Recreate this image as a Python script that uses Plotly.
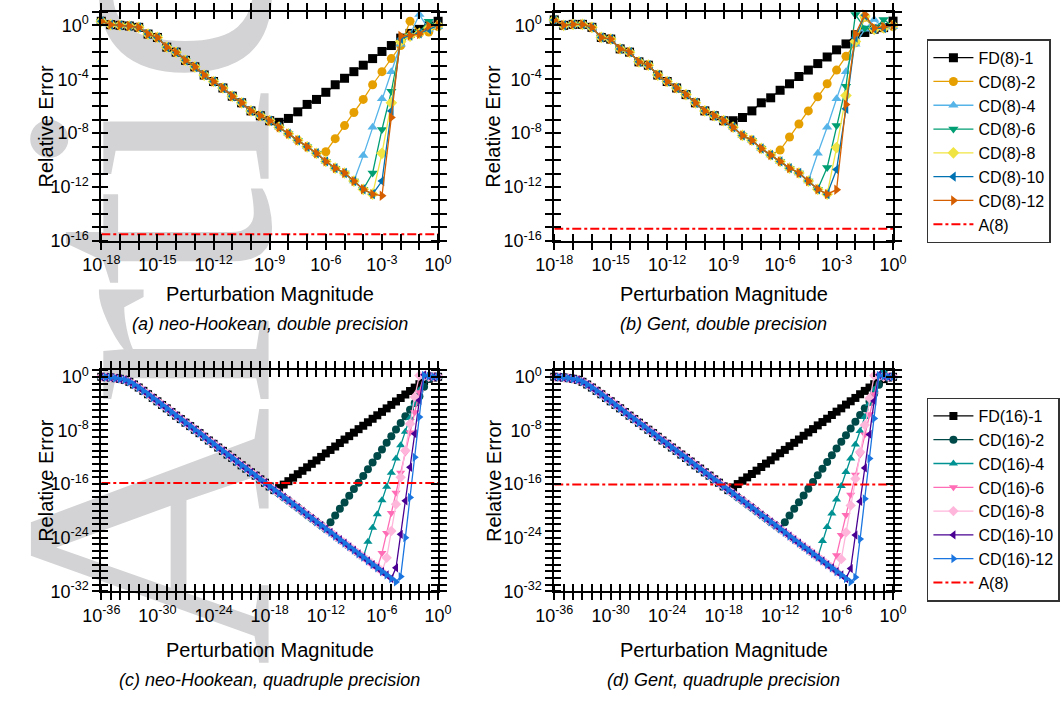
import numpy as np
import plotly.graph_objects as go

# ---------------- x grids (log10 of perturbation magnitude) ----------------
H8 = [-18.0, -17.5, -17.0, -16.5, -16.0, -15.5, -15.0, -14.5, -14.0, -13.5,
      -13.0, -12.5, -12.0, -11.5, -11.0, -10.5, -10.0, -9.5, -9.0, -8.5,
      -8.0, -7.5, -7.0, -6.5, -6.0, -5.5, -5.0, -4.5, -4.0, -3.5,
      -3.0, -2.5, -2.0, -1.5, -1.0, -0.5, 0.0]
H16 = [-36.0, -35.5, -35.0, -34.5, -34.0, -33.5, -33.0, -32.5, -32.0, -31.5,
       -31.0, -30.5, -30.0, -29.5, -29.0, -28.5, -28.0, -27.5, -27.0, -26.5,
       -26.0, -25.5, -25.0, -24.5, -24.0, -23.5, -23.0, -22.5, -22.0, -21.5,
       -21.0, -20.5, -20.0, -19.5, -19.0, -18.5, -18.0, -17.5, -17.0, -16.5,
       -16.0, -15.5, -15.0, -14.5, -14.0, -13.5, -13.0, -12.5, -12.0, -11.5,
       -11.0, -10.5, -10.0, -9.5, -9.0, -8.5, -8.0, -7.5, -7.0, -6.5,
       -6.0, -5.5, -5.0, -4.5, -4.0, -3.5, -3.0, -2.5, -2.0, -1.5,
       -1.0, -0.5, 0.0]

# ---------------- (a) neo-Hookean, double precision (log10 rel. error) -----
BASE_NH8 = [0.3, 0.05, 0.0, -0.05, -0.15, -0.65, -0.9, -1.62, -1.99, -2.6,
            -3.08, -3.69, -4.17, -4.65, -5.26, -5.75, -6.35, -6.71, -7.08, -7.56,
            -8.05, -8.53, -9.02, -9.5, -10.1, -10.6, -10.96, -11.56, -12.17, -12.53,
            -12.65]
FD8_NH = BASE_NH8[:19] + [-7.2, -6.91, -6.42, -5.87, -5.5, -4.97, -4.41, -3.93, -3.44,
                          -2.96, -2.47, -1.94, -1.5, -0.95, -0.6, -0.3, -0.05, 0.3]
CD8_2_NH = BASE_NH8[:24] + [-9.38, -8.41, -7.44, -6.47, -5.5, -4.41, -3.44, -2.47, -1.5,
                            0.31, -0.6, -0.5, -0.1]
CD8_4_NH = BASE_NH8[:28] + [-9.67, -7.56, -5.45, -3.44, -1.4, -0.7, 0.8, -0.3, -0.1]
CD8_6_NH = BASE_NH8[:29] + [-10.96, -7.73, -4.9, -1.3, -0.75, -0.5, 0.3, -0.1]
CD8_8_NH = BASE_NH8[:30] + [-9.5, -5.75, -1.2, -0.8, -0.6, -0.2, 0.0]
CD8_10_NH = BASE_NH8[:30] + [-11.56, -6.35, -1.0, -0.75, -0.6, -0.3, 0.0]
CD8_12_NH = BASE_NH8[:31] + [-6.84, -0.78, -0.75, -0.65, -0.05, 0.0]
A8_NH = -15.5

# ---------------- (b) Gent, double precision ----------------
BASE_G8 = [0.4, 0.0, 0.07, 0.07, -0.15, -0.9, -1.02, -1.75, -1.99, -2.71,
           -2.96, -3.69, -4.17, -4.65, -5.14, -5.75, -6.35, -6.71, -7.08, -7.56,
           -8.17, -8.53, -9.14, -9.62, -10.1, -10.6, -10.96, -11.56, -12.17, -12.53]
FD8_G = BASE_G8[:19] + [-7.08, -6.84, -6.35, -5.75, -5.38, -4.82, -4.34, -3.8, -3.32,
                        -2.84, -2.35, -1.82, -1.38, -0.7, -0.53, -0.29, -0.17, 0.31]
CD8_2_G = BASE_G8[:24] + [-9.26, -8.29, -7.32, -6.35, -5.31, -4.34, -3.32, -2.3, -1.3,
                          0.6, -0.3, -0.2, -0.1]
CD8_4_G = BASE_G8[:28] + [-9.5, -7.56, -5.45, -3.44, -1.4, -0.3, 0.44, -0.2, -0.1]
CD8_6_G = BASE_G8[:29] + [-10.55, -7.44, -4.53, 0.8, -0.2, -0.3, 0.44, -0.1]
CD8_8_G = BASE_G8[:30] + [-9.07, -5.21, -1.2, 0.7, -0.3, -0.2, 0.0]
CD8_10_G = BASE_G8[:30] + [-10.7, -6.2, -0.9, 0.75, -0.25, -0.2, 0.0]
CD8_12_G = BASE_G8[:30] + [-12.2, -5.87, -0.65, 0.8, -0.2, -0.1, 0.0]
A8_G = -15.1

# ---------------- (c) neo-Hookean, quadruple precision ----------------
BASE_NH16 = [0.0, -0.05, -0.1, -0.2, -0.3, -0.45, -0.75, -1.15, -1.6, -2.1,
             -2.6, -3.15, -3.65, -4.2, -4.7, -5.25, -5.8, -6.3, -6.85, -7.35,
             -7.9, -8.4, -8.95, -9.5, -10.0, -10.55, -11.05, -11.6, -12.1, -12.65,
             -13.2, -13.7, -14.25, -14.75, -15.3, -15.8, -16.35, -16.9, -17.4, -17.95,
             -18.45, -19.0, -19.5, -20.05, -20.6, -21.1, -21.65, -22.15, -22.7, -23.2,
             -23.75, -24.3, -24.8, -25.35, -25.85, -26.4, -26.9, -27.45, -28.0, -28.5,
             -29.05, -29.55, -30.1, -30.6]
FD16_NH = BASE_NH16[:38] + [-16.6, -16.08, -15.57, -15.05, -14.53, -14.02, -13.5, -12.98,
                            -12.47, -11.95, -11.43, -10.91, -10.4, -9.88, -9.36, -8.85,
                            -8.33, -7.81, -7.3, -6.78, -6.26, -5.74, -5.23, -4.71, -4.19,
                            -3.68, -3.16, -2.64, -2.12, -1.61, -1.1, -0.65, -0.3, -0.1, 0.0]
CD16_2_NH = BASE_NH16[:49] + [-21.7, -20.7, -19.7, -18.75, -17.75, -16.75, -15.8, -14.8,
                              -13.8, -12.8, -11.8, -10.85, -9.85, -8.85, -7.85, -6.9,
                              -5.9, -4.9, -3.9, -2.9, -1.5, -0.3, 0.1, 0.0]
CD16_4_NH = BASE_NH16[:57] + [-24.6, -22.5, -20.5, -18.4, -16.4, -14.3, -12.2, -10.2,
                              -8.2, -6.1, -4.0, -2.0, 0.0, 0.3, 0.1, 0.0]
CD16_6_NH = BASE_NH16[:60] + [-26.3, -23.3, -20.3, -17.3, -14.3, -11.3, -8.3, -5.3, -2.3,
                              0.2, 0.2, 0.0, 0.0]
CD16_8_NH = BASE_NH16[:61] + [-27.0, -23.0, -19.0, -15.0, -11.0, -7.0, -3.0, 0.2, 0.1,
                              0.0, 0.0, 0.0]
CD16_10_NH = BASE_NH16[:63] + [-28.5, -23.5, -18.5, -13.5, -8.5, -3.5, 0.3, 0.1, 0.0, 0.0]
CD16_12_NH = BASE_NH16[:64] + [-29.8, -24.0, -18.0, -12.0, -6.0, 0.2, 0.1, 0.0, 0.0]
A16_NH = -15.85

# ---------------- (d) Gent, quadruple precision ----------------
BASE_G16 = [0.0, -0.05, -0.1, -0.2, -0.3, -0.45, -0.75, -1.15, -1.6, -2.1,
            -2.6, -3.15, -3.65, -4.2, -4.7, -5.25, -5.8, -6.3, -6.85, -7.35,
            -7.9, -8.4, -8.95, -9.5, -10.0, -10.55, -11.05, -11.6, -12.1, -12.65,
            -13.2, -13.7, -14.25, -14.75, -15.3, -15.8, -16.35, -16.9, -17.4, -17.95,
            -18.45, -19.0, -19.5, -20.05, -20.6, -21.1, -21.65, -22.15, -22.7, -23.2,
            -23.75, -24.3, -24.8, -25.35, -25.85, -26.4, -26.9, -27.45, -28.0, -28.5,
            -29.05, -29.55, -30.1, -30.6]
FD16_G = BASE_G16[:38] + [-16.5, -16.0, -15.5, -15.0, -14.5, -14.0, -13.45, -12.95,
                          -12.45, -11.9, -11.4, -10.9, -10.35, -9.85, -9.35, -8.8,
                          -8.3, -7.8, -7.25, -6.75, -6.25, -5.7, -5.2, -4.7, -4.15,
                          -3.65, -3.15, -2.6, -2.1, -1.6, -1.1, -0.7, -0.35, -0.1, 0.0]
CD16_2_G = BASE_G16[:49] + [-21.7, -20.7, -19.7, -18.7, -17.7, -16.7, -15.7, -14.7,
                            -13.7, -12.7, -11.7, -10.7, -9.7, -8.7, -7.7, -6.7,
                            -5.7, -4.7, -3.7, -2.5, -1.2, 0.6, -0.1, 0.0]
CD16_4_G = BASE_G16[:57] + [-24.5, -22.4, -20.4, -18.3, -16.3, -14.2, -12.2, -10.1,
                            -8.1, -6.0, -4.0, -1.9, 0.0, 0.9, 0.1, 0.0]
CD16_6_G = BASE_G16[:60] + [-26.6, -23.6, -20.6, -17.6, -14.6, -11.6, -8.6, -5.6, -2.6,
                            0.2, 0.2, 0.0, 0.0]
CD16_8_G = BASE_G16[:61] + [-27.2, -23.2, -19.2, -15.2, -11.2, -7.2, -3.2, 0.2, 0.1,
                            0.0, 0.0, 0.0]
CD16_10_G = BASE_G16[:63] + [-28.6, -23.6, -18.6, -13.6, -8.6, -3.6, 0.3, 0.1, 0.0, 0.0]
CD16_12_G = BASE_G16[:64] + [-29.9, -24.2, -18.2, -12.2, -6.2, 0.2, 0.1, 0.0, 0.0]
A16_G = -16.05

# ---------------- series styling ----------------
NAMES8 = ["FD(8)-1", "CD(8)-2", "CD(8)-4", "CD(8)-6", "CD(8)-8", "CD(8)-10", "CD(8)-12"]
NAMES16 = ["FD(16)-1", "CD(16)-2", "CD(16)-4", "CD(16)-6", "CD(16)-8", "CD(16)-10", "CD(16)-12"]
COLORS8 = ["#000000", "#E69F00", "#56B4E9", "#009E73", "#F0E442", "#0072B2", "#D55E00"]
COLORS16 = ["#000000", "#004949", "#009292", "#FF6DB6", "#FFB6DB", "#490092", "#1A75E0"]
SYMBOLS = ["square", "circle", "triangle-up", "triangle-down", "diamond",
           "triangle-left", "triangle-right"]

PANELS = [
    dict(h=H8, series=[FD8_NH, CD8_2_NH, CD8_4_NH, CD8_6_NH, CD8_8_NH, CD8_10_NH, CD8_12_NH],
         a=A8_NH, names=NAMES8, colors=COLORS8, legend="legend", show=True, ms=9),
    dict(h=H8, series=[FD8_G, CD8_2_G, CD8_4_G, CD8_6_G, CD8_8_G, CD8_10_G, CD8_12_G],
         a=A8_G, names=NAMES8, colors=COLORS8, legend="legend", show=False, ms=9),
    dict(h=H16, series=[FD16_NH, CD16_2_NH, CD16_4_NH, CD16_6_NH, CD16_8_NH, CD16_10_NH, CD16_12_NH],
         a=A16_NH, names=NAMES16, colors=COLORS16, legend="legend2", show=True, ms=8),
    dict(h=H16, series=[FD16_G, CD16_2_G, CD16_4_G, CD16_6_G, CD16_8_G, CD16_10_G, CD16_12_G],
         a=A16_G, names=NAMES16, colors=COLORS16, legend="legend2", show=False, ms=8),
]

CAPTIONS = ["(a) neo-Hookean, double precision", "(b) Gent, double precision",
            "(c) neo-Hookean, quadruple precision", "(d) Gent, quadruple precision"]

W, H = 1060, 709
XDOM = [[85 / W, 433 / W], [553 / W, 903 / W], [85 / W, 433 / W], [553 / W, 903 / W]]
YDOM = [[1 - 241 / H, 1 - 7 / H], [1 - 241 / H, 1 - 7 / H],
        [1 - 599 / H, 1 - 373 / H], [1 - 599 / H, 1 - 373 / H]]
XR = [(-18, 0, 3), (-18, 0, 3), (-36, 0, 6), (-36, 0, 6)]
YR = [(-16, 1, 4), (-16, 1, 4), (-32, 1, 8), (-32, 1, 8)]

FONT = "Liberation Sans, Arial, sans-serif"

fig = go.Figure()

for i, p in enumerate(PANELS):
    xa = "x" if i == 0 else f"x{i + 1}"
    ya = "y" if i == 0 else f"y{i + 1}"
    xs = [10.0 ** v for v in p["h"]]
    for name, col, sym, s in zip(p["names"], p["colors"], SYMBOLS, p["series"]):
        fig.add_trace(go.Scatter(
            x=xs, y=[10.0 ** v for v in s], mode="lines+markers", name=name,
            line=dict(color=col, width=1.3),
            marker=dict(symbol=sym, size=p["ms"], color=col, line=dict(width=0)),
            xaxis=xa, yaxis=ya, legend=p["legend"], showlegend=p["show"],
            cliponaxis=False))
    fig.add_trace(go.Scatter(
        x=[xs[0], xs[-1]], y=[10.0 ** p["a"]] * 2, mode="lines", name="A(8)",
        line=dict(color="#FF0000", width=2, dash="dashdot"),
        xaxis=xa, yaxis=ya, legend=p["legend"], showlegend=p["show"]))


def log_axis(lo, hi, labels, dom, anchor):
    decades = list(range(lo, hi + 1))
    vals = [10.0 ** k for k in decades]
    text = [f"10<sup>{k}</sup>" if k in labels else "" for k in decades]
    minor_vals = [10.0 ** (k + 0.0004) for k in decades]
    return dict(
        type="log", range=[lo, hi], domain=dom, anchor=anchor,
        tickmode="array", tickvals=vals, ticktext=text,
        ticks="outside", ticklen=7, tickwidth=1.5, tickcolor="black",
        minor=dict(tickmode="array", tickvals=minor_vals, ticks="inside",
                   ticklen=7, tickwidth=1.5, tickcolor="black", showgrid=False),
        showline=True, linecolor="black", linewidth=1.8, mirror="allticks",
        showgrid=False, zeroline=False,
        tickfont=dict(family=FONT, size=18, color="black"))


layout_axes = {}
for i in range(4):
    sx = "" if i == 0 else str(i + 1)
    lo, hi, st = XR[i]
    layout_axes[f"xaxis{sx}"] = log_axis(lo, hi, list(range(lo, 1, st)), XDOM[i], "y" + sx)
    lo, hi, st = YR[i]
    layout_axes[f"yaxis{sx}"] = log_axis(lo, hi, list(range(0, lo - 1, -st)), YDOM[i], "x" + sx)

annotations = []
for i in range(4):
    xc = (XDOM[i][0] + XDOM[i][1]) / 2
    yc = (YDOM[i][0] + YDOM[i][1]) / 2
    top = i < 2
    annotations.append(dict(
        text="Perturbation Magnitude", x=xc, y=1 - (295 if top else 659) / H,
        xref="paper", yref="paper", showarrow=False, xanchor="center", yanchor="middle",
        font=dict(family=FONT, size=20, color="black")))
    annotations.append(dict(
        text="Relative Error", x=(28 if i % 2 == 0 else 490) / W, y=yc, textangle=-90,
        xref="paper", yref="paper", showarrow=False, xanchor="center", yanchor="middle",
        font=dict(family=FONT, size=20, color="black")))
    annotations.append(dict(
        text=f"<i>{CAPTIONS[i]}</i>", x=xc, y=1 - (326 if top else 690) / H,
        xref="paper", yref="paper", showarrow=False, xanchor="center", yanchor="middle",
        font=dict(family=FONT, size=18, color="black")))

legend_style = dict(
    font=dict(family=FONT, size=16, color="black"), bgcolor="white",
    bordercolor="#333333", borderwidth=1.5, xanchor="left", yanchor="top",
    tracegroupgap=0, itemwidth=40)

fig.update_layout(
    width=W, height=H, margin=dict(l=0, r=0, t=0, b=0),
    paper_bgcolor="white", plot_bgcolor="rgba(0,0,0,0)",
    legend=dict(x=938 / W, y=1 - 35 / H, **legend_style),
    legend2=dict(x=938 / W, y=1 - 401 / H, **legend_style),
    annotations=annotations,
    shapes=[dict(type="rect", xref="paper", yref="paper", x0=0, x1=184 / W,
                 y0=1 - 330 / H, y1=1.0, layer="below",
                 line=dict(width=0), fillcolor="rgba(0,0,0,0)",
                 label=dict(text="Article", textangle=-90, textposition="middle center",
                            font=dict(family="Liberation Serif", size=360, color="#D3D3D5")))],
    **layout_axes)

fig.write_html("out.html")
